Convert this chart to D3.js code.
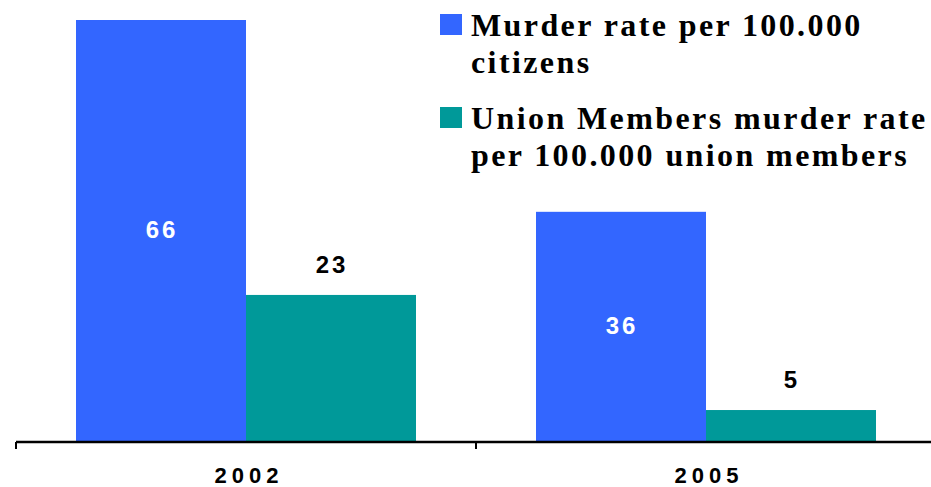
<!DOCTYPE html>
<html>
<head>
<meta charset="utf-8">
<script src="https://cdn.jsdelivr.net/npm/d3@7"></script>
<style>
  body { margin: 0; background: #fff; }
  svg { display: block; }
</style>
</head>
<body>
<svg id="chart" width="931" height="487"></svg>
<script>
const years = ["2002", "2005"];
const seriesNames = ["Murder rate per 100.000 citizens", "Union Members murder rate per 100.000 union members"];
const citizenRate = [66, 36];
const unionRate = [23, 5];
const legendLines = [["Murder rate per 100.000", "citizens"], ["Union Members murder rate", "per 100.000 union members"]];
const colors = ["#3366ff", "#009999"];

const svg = d3.select("#chart");
const baseY = 442;

const x = d3.scaleBand().domain(years).range([16, 936]).paddingInner(0).paddingOuter(0);
const inner = d3.scaleBand().domain([0, 1]).range([0, x.bandwidth()]).paddingOuter(0.353).paddingInner(0);
const y = d3.scaleLinear().domain([0, 66]).range([baseY, 20]);

const rows = years.map((yr, i) => ({ year: yr, values: [citizenRate[i], unionRate[i]] }));

const groups = svg.selectAll(".grp")
  .data(rows)
  .enter().append("g")
  .attr("class", "grp")
  .attr("transform", d => `translate(${x(d.year)},0)`);

groups.selectAll("rect")
  .data(d => d.values.map((v, k) => ({ v, k })))
  .enter().append("rect")
  .attr("x", d => inner(d.k))
  .attr("y", d => y(d.v))
  .attr("width", inner.bandwidth())
  .attr("height", d => baseY - y(d.v))
  .attr("fill", d => colors[d.k]);

groups.selectAll(".val")
  .data(d => d.values.map((v, k) => ({ v, k })))
  .enter().append("text")
  .attr("class", "val")
  .attr("x", d => inner(d.k) + inner.bandwidth() / 2 + 1)
  .attr("y", d => d.k === 0 ? (y(d.v) + baseY) / 2 + 7 : y(d.v) - 22)
  .attr("text-anchor", "middle")
  .attr("fill", d => d.k === 0 ? "#fff" : "#000")
  .style("font-family", "Liberation Sans, Arial, sans-serif")
  .style("font-weight", "bold")
  .style("font-size", "24px")
  .style("letter-spacing", "3px")
  .text(d => d.v);

// axis
const axis = svg.append("g").attr("transform", `translate(0,${baseY})`);
axis.append("line")
  .attr("x1", 16).attr("x2", 931)
  .attr("stroke", "#000").attr("stroke-width", 2.5);
axis.selectAll(".tick")
  .data(years)
  .enter().append("line")
  .attr("x1", d => x(d)).attr("x2", d => x(d))
  .attr("y1", 0).attr("y2", 7)
  .attr("stroke", "#000").attr("stroke-width", 2);
axis.selectAll(".lbl")
  .data(years)
  .enter().append("text")
  .attr("x", d => x(d) + x.bandwidth() / 2 + 3)
  .attr("y", 41)
  .attr("text-anchor", "middle")
  .style("font-family", "Liberation Sans, Arial, sans-serif")
  .style("font-weight", "bold")
  .style("font-size", "22px")
  .style("letter-spacing", "5px")
  .text(d => d);

// legend
const legend = svg.selectAll(".leg")
  .data(seriesNames)
  .enter().append("g")
  .attr("class", "leg")
  .attr("transform", (d, i) => `translate(440,${14 + i * 93})`);
legend.append("rect")
  .attr("width", 22).attr("height", 21)
  .attr("fill", (d, i) => colors[i]);
legend.append("text")
  .style("font-family", "Liberation Serif, Times New Roman, serif")
  .style("font-weight", "bold")
  .style("font-size", "32px")
  .style("letter-spacing", "2.4px")
  .selectAll("tspan")
  .data((d, i) => legendLines[i])
  .enter().append("tspan")
  .attr("x", 31)
  .attr("y", (d, j) => 22 + j * 37)
  .text(d => d);
</script>
</body>
</html>
